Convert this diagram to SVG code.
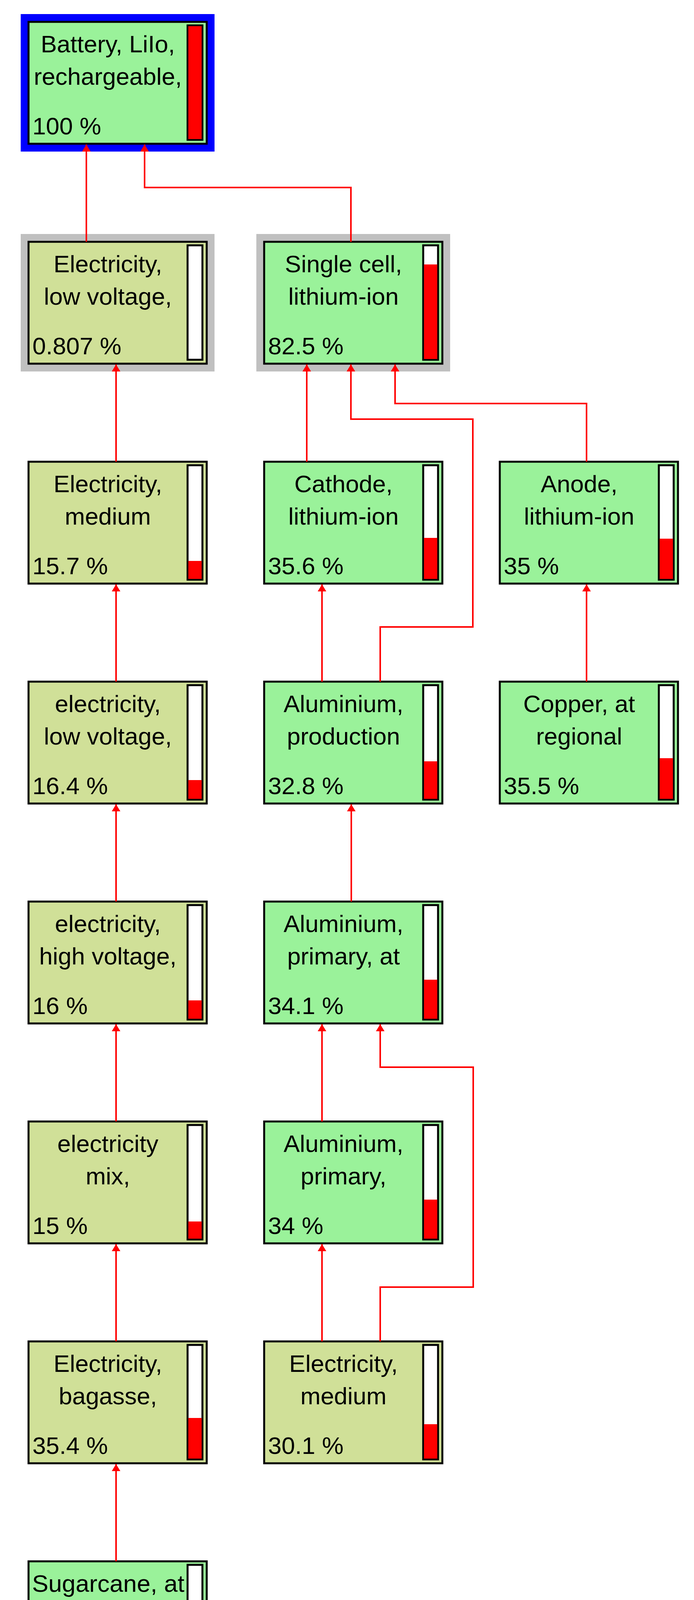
<svg xmlns="http://www.w3.org/2000/svg" width="1776" height="4351" viewBox="0 0 1776 4351">
<style>
.box{stroke:#000;stroke-width:5}
.g{fill:#9AF29A}
.o{fill:#D0E098}
.bar{fill:#fff;stroke:#000;stroke-width:5}
.fill{fill:#f00}
text{font-family:"Liberation Sans",Arial,sans-serif;font-size:62px;fill:#000}
.c{text-anchor:middle}
.conn{fill:none;stroke:#f00;stroke-width:4;marker-end:url(#ah)}
</style>
<defs>
<marker id="ah" markerUnits="userSpaceOnUse" markerWidth="30" markerHeight="30" refX="20" refY="12" orient="auto">
<path d="M20,12 L2,1 L2,23 Z" fill="#f00"/>
</marker>
</defs>
<rect width="1776" height="4351" fill="#fff"/>
<g id="n-battery">
<rect x="63" y="46" width="476" height="332" fill="none" stroke="#00f" stroke-width="20"/>
<rect class="box g" x="73" y="56" width="456" height="312"/>
<rect class="bar" x="480" y="65" width="38" height="293"/>
<rect class="fill" x="482" y="67" width="34" height="289"/>
<text class="c" x="276" y="134">Battery, LiIo,</text>
<text class="c" x="276" y="217">rechargeable,</text>
<text x="83" y="344">100 %</text>
</g>
<g id="n-elv">
<rect x="63" y="609" width="476" height="332" fill="none" stroke="#c0c0c0" stroke-width="20"/>
<rect class="box o" x="73" y="619" width="456" height="312"/>
<rect class="bar" x="480" y="628" width="38" height="293"/>
<text class="c" x="276" y="697">Electricity,</text>
<text class="c" x="276" y="780">low voltage,</text>
<text x="83" y="907">0.807 %</text>
</g>
<g id="n-single">
<rect x="666" y="609" width="476" height="332" fill="none" stroke="#c0c0c0" stroke-width="20"/>
<rect class="box g" x="676" y="619" width="456" height="312"/>
<rect class="bar" x="1083" y="628" width="38" height="293"/>
<rect class="fill" x="1085" y="677" width="34" height="242"/>
<text class="c" x="879" y="697">Single cell,</text>
<text class="c" x="879" y="780">lithium-ion</text>
<text x="686" y="907">82.5 %</text>
</g>
<g id="n-emed1">
<rect class="box o" x="73" y="1182" width="456" height="312"/>
<rect class="bar" x="480" y="1191" width="38" height="293"/>
<rect class="fill" x="482" y="1436" width="34" height="46"/>
<text class="c" x="276" y="1260">Electricity,</text>
<text class="c" x="276" y="1343">medium</text>
<text x="83" y="1470">15.7 %</text>
</g>
<g id="n-cathode">
<rect class="box g" x="676" y="1182" width="456" height="312"/>
<rect class="bar" x="1083" y="1191" width="38" height="293"/>
<rect class="fill" x="1085" y="1377" width="34" height="105"/>
<text class="c" x="879" y="1260">Cathode,</text>
<text class="c" x="879" y="1343">lithium-ion</text>
<text x="686" y="1470">35.6 %</text>
</g>
<g id="n-anode">
<rect class="box g" x="1279" y="1182" width="456" height="312"/>
<rect class="bar" x="1686" y="1191" width="38" height="293"/>
<rect class="fill" x="1688" y="1379" width="34" height="103"/>
<text class="c" x="1482" y="1260">Anode,</text>
<text class="c" x="1482" y="1343">lithium-ion</text>
<text x="1289" y="1470">35 %</text>
</g>
<g id="n-elv2">
<rect class="box o" x="73" y="1745" width="456" height="312"/>
<rect class="bar" x="480" y="1754" width="38" height="293"/>
<rect class="fill" x="482" y="1997" width="34" height="48"/>
<text class="c" x="276" y="1823">electricity,</text>
<text class="c" x="276" y="1906">low voltage,</text>
<text x="83" y="2033">16.4 %</text>
</g>
<g id="n-alprod">
<rect class="box g" x="676" y="1745" width="456" height="312"/>
<rect class="bar" x="1083" y="1754" width="38" height="293"/>
<rect class="fill" x="1085" y="1949" width="34" height="96"/>
<text class="c" x="879" y="1823">Aluminium,</text>
<text class="c" x="879" y="1906">production</text>
<text x="686" y="2033">32.8 %</text>
</g>
<g id="n-copper">
<rect class="box g" x="1279" y="1745" width="456" height="312"/>
<rect class="bar" x="1686" y="1754" width="38" height="293"/>
<rect class="fill" x="1688" y="1941" width="34" height="104"/>
<text class="c" x="1482" y="1823">Copper, at</text>
<text class="c" x="1482" y="1906">regional</text>
<text x="1289" y="2033">35.5 %</text>
</g>
<g id="n-ehv">
<rect class="box o" x="73" y="2308" width="456" height="312"/>
<rect class="bar" x="480" y="2317" width="38" height="293"/>
<rect class="fill" x="482" y="2561" width="34" height="47"/>
<text class="c" x="276" y="2386">electricity,</text>
<text class="c" x="276" y="2469">high voltage,</text>
<text x="83" y="2596">16 %</text>
</g>
<g id="n-alprimat">
<rect class="box g" x="676" y="2308" width="456" height="312"/>
<rect class="bar" x="1083" y="2317" width="38" height="293"/>
<rect class="fill" x="1085" y="2508" width="34" height="100"/>
<text class="c" x="879" y="2386">Aluminium,</text>
<text class="c" x="879" y="2469">primary, at</text>
<text x="686" y="2596">34.1 %</text>
</g>
<g id="n-emix">
<rect class="box o" x="73" y="2871" width="456" height="312"/>
<rect class="bar" x="480" y="2880" width="38" height="293"/>
<rect class="fill" x="482" y="3127" width="34" height="44"/>
<text class="c" x="276" y="2949">electricity</text>
<text class="c" x="276" y="3032">mix,</text>
<text x="83" y="3159">15 %</text>
</g>
<g id="n-alprim">
<rect class="box g" x="676" y="2871" width="456" height="312"/>
<rect class="bar" x="1083" y="2880" width="38" height="293"/>
<rect class="fill" x="1085" y="3071" width="34" height="100"/>
<text class="c" x="879" y="2949">Aluminium,</text>
<text class="c" x="879" y="3032">primary,</text>
<text x="686" y="3159">34 %</text>
</g>
<g id="n-bagasse">
<rect class="box o" x="73" y="3434" width="456" height="312"/>
<rect class="bar" x="480" y="3443" width="38" height="293"/>
<rect class="fill" x="482" y="3630" width="34" height="104"/>
<text class="c" x="276" y="3512">Electricity,</text>
<text class="c" x="276" y="3595">bagasse,</text>
<text x="83" y="3722">35.4 %</text>
</g>
<g id="n-emed2">
<rect class="box o" x="676" y="3434" width="456" height="312"/>
<rect class="bar" x="1083" y="3443" width="38" height="293"/>
<rect class="fill" x="1085" y="3646" width="34" height="88"/>
<text class="c" x="879" y="3512">Electricity,</text>
<text class="c" x="879" y="3595">medium</text>
<text x="686" y="3722">30.1 %</text>
</g>
<g id="n-sugar">
<rect class="box g" x="73" y="3997" width="456" height="312"/>
<rect class="bar" x="480" y="4006" width="38" height="293"/>
<rect class="fill" x="482" y="4193" width="34" height="104"/>
<text class="c" x="277" y="4075" textLength="390" lengthAdjust="spacingAndGlyphs">Sugarcane, at</text>
<text class="c" x="276" y="4158">farm/BR</text>
<text x="83" y="4285">35.4 %</text>
</g>
<g id="connectors">
<path class="conn" d="M221,619 V370"/>
<path class="conn" d="M898,619 V480 H370 V370"/>
<path class="conn" d="M297,1182 V933"/>
<path class="conn" d="M785,1182 V933"/>
<path class="conn" d="M1501,1182 V1033 H1011 V933"/>
<path class="conn" d="M973,1745 V1605 H1210 V1073 H898 V933"/>
<path class="conn" d="M824,1745 V1496"/>
<path class="conn" d="M1501,1745 V1496"/>
<path class="conn" d="M297,1745 V1496"/>
<path class="conn" d="M297,2308 V2059"/>
<path class="conn" d="M899,2308 V2059"/>
<path class="conn" d="M297,2871 V2622"/>
<path class="conn" d="M824,2871 V2622"/>
<path class="conn" d="M297,3434 V3185"/>
<path class="conn" d="M824,3434 V3185"/>
<path class="conn" d="M973,3434 V3295 H1211 V2732 H973 V2622"/>
<path class="conn" d="M297,3997 V3748"/>
</g>
</svg>
